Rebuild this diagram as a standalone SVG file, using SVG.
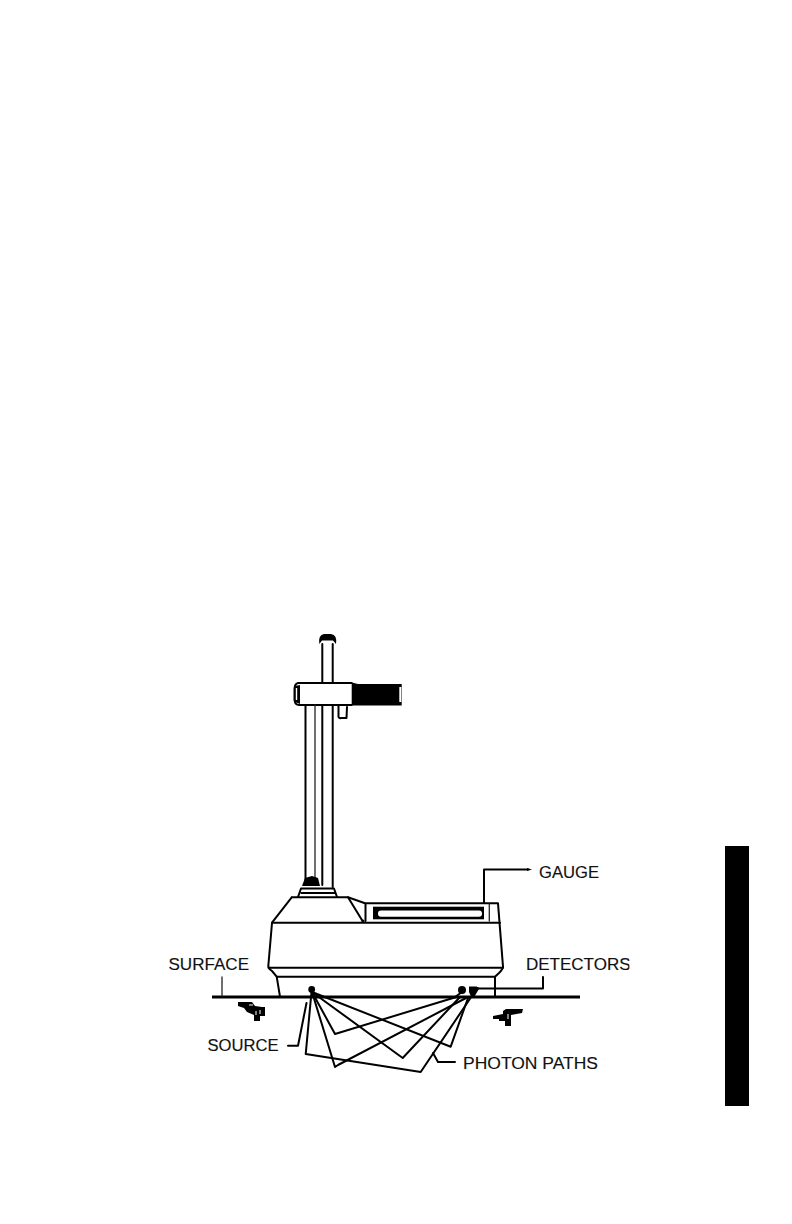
<svg xmlns="http://www.w3.org/2000/svg" width="792" height="1224" viewBox="0 0 792 1224">
<style>
.l{fill:none;stroke:#222;stroke-width:1.3;stroke-linejoin:round;stroke-linecap:round}
.m{fill:none;stroke:#000;stroke-width:2;stroke-linejoin:round;stroke-linecap:round}
.t{font-family:"Liberation Sans",Arial,sans-serif;font-size:17px;fill:#111;stroke:#111;stroke-width:.15}
.k{fill:#000}
</style>
<defs><clipPath id="c"><rect x="500" y="940" width="129.500" height="50"/></clipPath></defs>
<rect width="792" height="1224" fill="#fff"/>
<rect id="tab" class="k" x="725" y="846" width="24" height="260"/>

<g id="gauge">
<path class="k" d="M319.300 644 Q318 635 324 634 L331 634 Q337.500 635 336 644 L333 640.500 L322 640.500 Z"/>
<path class="m" d="M322.300 644 V683 M332.700 644 V683"/>
<path class="m" d="M351.700 683 H298 Q294.500 684 294.500 689 V700 Q295 705 299 705 H351.700"/>
<path class="k" d="M295 686 L300 685 V704 L295 702 Z"/>
<path d="M296.500 688 V700" stroke="#fff" stroke-width="1.400" fill="none"/>
<path class="k" d="M351.700 682.500 L358 684 H401.700 V705.500 H351.700 Z"/>
<rect x="399.300" y="687" width="2" height="15" fill="#fff"/>
<path class="m" d="M338.500 706 V717 Q339 718.500 341 718 H346.500 L347 707"/>
<path class="m" d="M305.500 705 V880 M322.300 705 V885 M332.700 705 V887"/>
<path class="l" d="M315 705 V880"/>
<path class="k" d="M302 886 L305 878 L312 876 L318 878 L320 886 Z"/>
<path class="m" d="M298 897 L301 888.500 H334 L337 897 M301.500 893 H335"/>
<path class="m" d="M291.700 897.300 H348 L363 921.700 M291.700 897.300 L272 922.700"/>
<path class="m" d="M348 897.300 L365 903.300 H498 L503 966.700 Q503 969 499 973 L495 976.700 M365.500 903.500 V921"/>
<path class="m" d="M272 922.700 H500 M272 923 L268.300 966 Q268.500 969 272 971 L276.700 976.700"/>
<path class="m" d="M268.500 967.700 H503 M276.700 976.700 H495 M276.700 976.700 L280 996.700 M495 976.700 V996.700"/>
<path class="l" d="M489.300 904 V921"/>
<rect x="373" y="906.700" width="111" height="12.600" class="k"/>
<rect x="378" y="910.500" width="104" height="6.300" rx="3" fill="#fff"/>
<circle class="k" cx="363" cy="921" r="1.500"/>
</g>

<g id="surface-ground">
<rect class="k" x="212" y="995.500" width="368" height="3"/>
<path class="k" d="M238 1002 H252 L255 1006 L262 1007 H265 V1016 H260 V1021 H254 V1015 L247 1012 L244 1008 L238 1006 Z"/>
<path class="k" d="M503 1011 L506 1009 H523 L522 1013 L511 1015 V1026 H505 V1021 H499 V1019 H493 V1016 L503 1014 Z"/>
<path d="M249 1005 H253 M256 1011 V1015 M260 1010 V1014 M508 1014 V1019" stroke="#fff" stroke-width="1" fill="none"/>
</g>

<g id="source"><circle class="k" cx="311.700" cy="989.500" r="3.400"/></g>
<g id="detector-1"><circle class="k" cx="462" cy="990" r="4"/></g>
<g id="detector-2"><path class="k" d="M469 986.500 H476.500 L479.500 988 L474.500 996.500 L471 996.500 L469 992 Z"/></g>

<g id="connectors">
<path class="m" d="M312 992 L335 1034 L458 996.500"/>
<path class="m" d="M312 992 L335 1067 L338 1065 L466 998"/>
<path class="m" d="M311.500 992 L305.700 1054 L420.700 1072 L470.500 998"/>
<path class="m" d="M312 992 L402.700 1058 L460 997"/>
<path class="m" d="M312 992 L450.700 1046.700 L468 998"/>
<path class="m" d="M455 997 L462 992"/>
<path class="l" d="M222 977 V996"/>
<path class="m" d="M288 1045.700 H298 L306.500 1003"/>
<path class="m" d="M433 1053 L438 1062 H455"/>
<path class="m" d="M475 988.500 H543 V977"/>
<path class="m" d="M484 903 V869.500 H528"/>
<path class="k" d="M527 868 L532 869.500 L527 871 Z"/>
</g>

<g id="labels">
<text class="t" x="539" y="877.500" textLength="60" lengthAdjust="spacingAndGlyphs">GAUGE</text>
<text class="t" x="168.500" y="969.500" textLength="80.500" lengthAdjust="spacingAndGlyphs">SURFACE</text>
<text class="t" x="526" y="969.500" clip-path="url(#c)">DETECTORS</text>
<text class="t" x="207.500" y="1050.500" textLength="71" lengthAdjust="spacingAndGlyphs">SOURCE</text>
<text class="t" x="463" y="1068.500" textLength="135" lengthAdjust="spacingAndGlyphs">PHOTON PATHS</text>
</g>
</svg>
